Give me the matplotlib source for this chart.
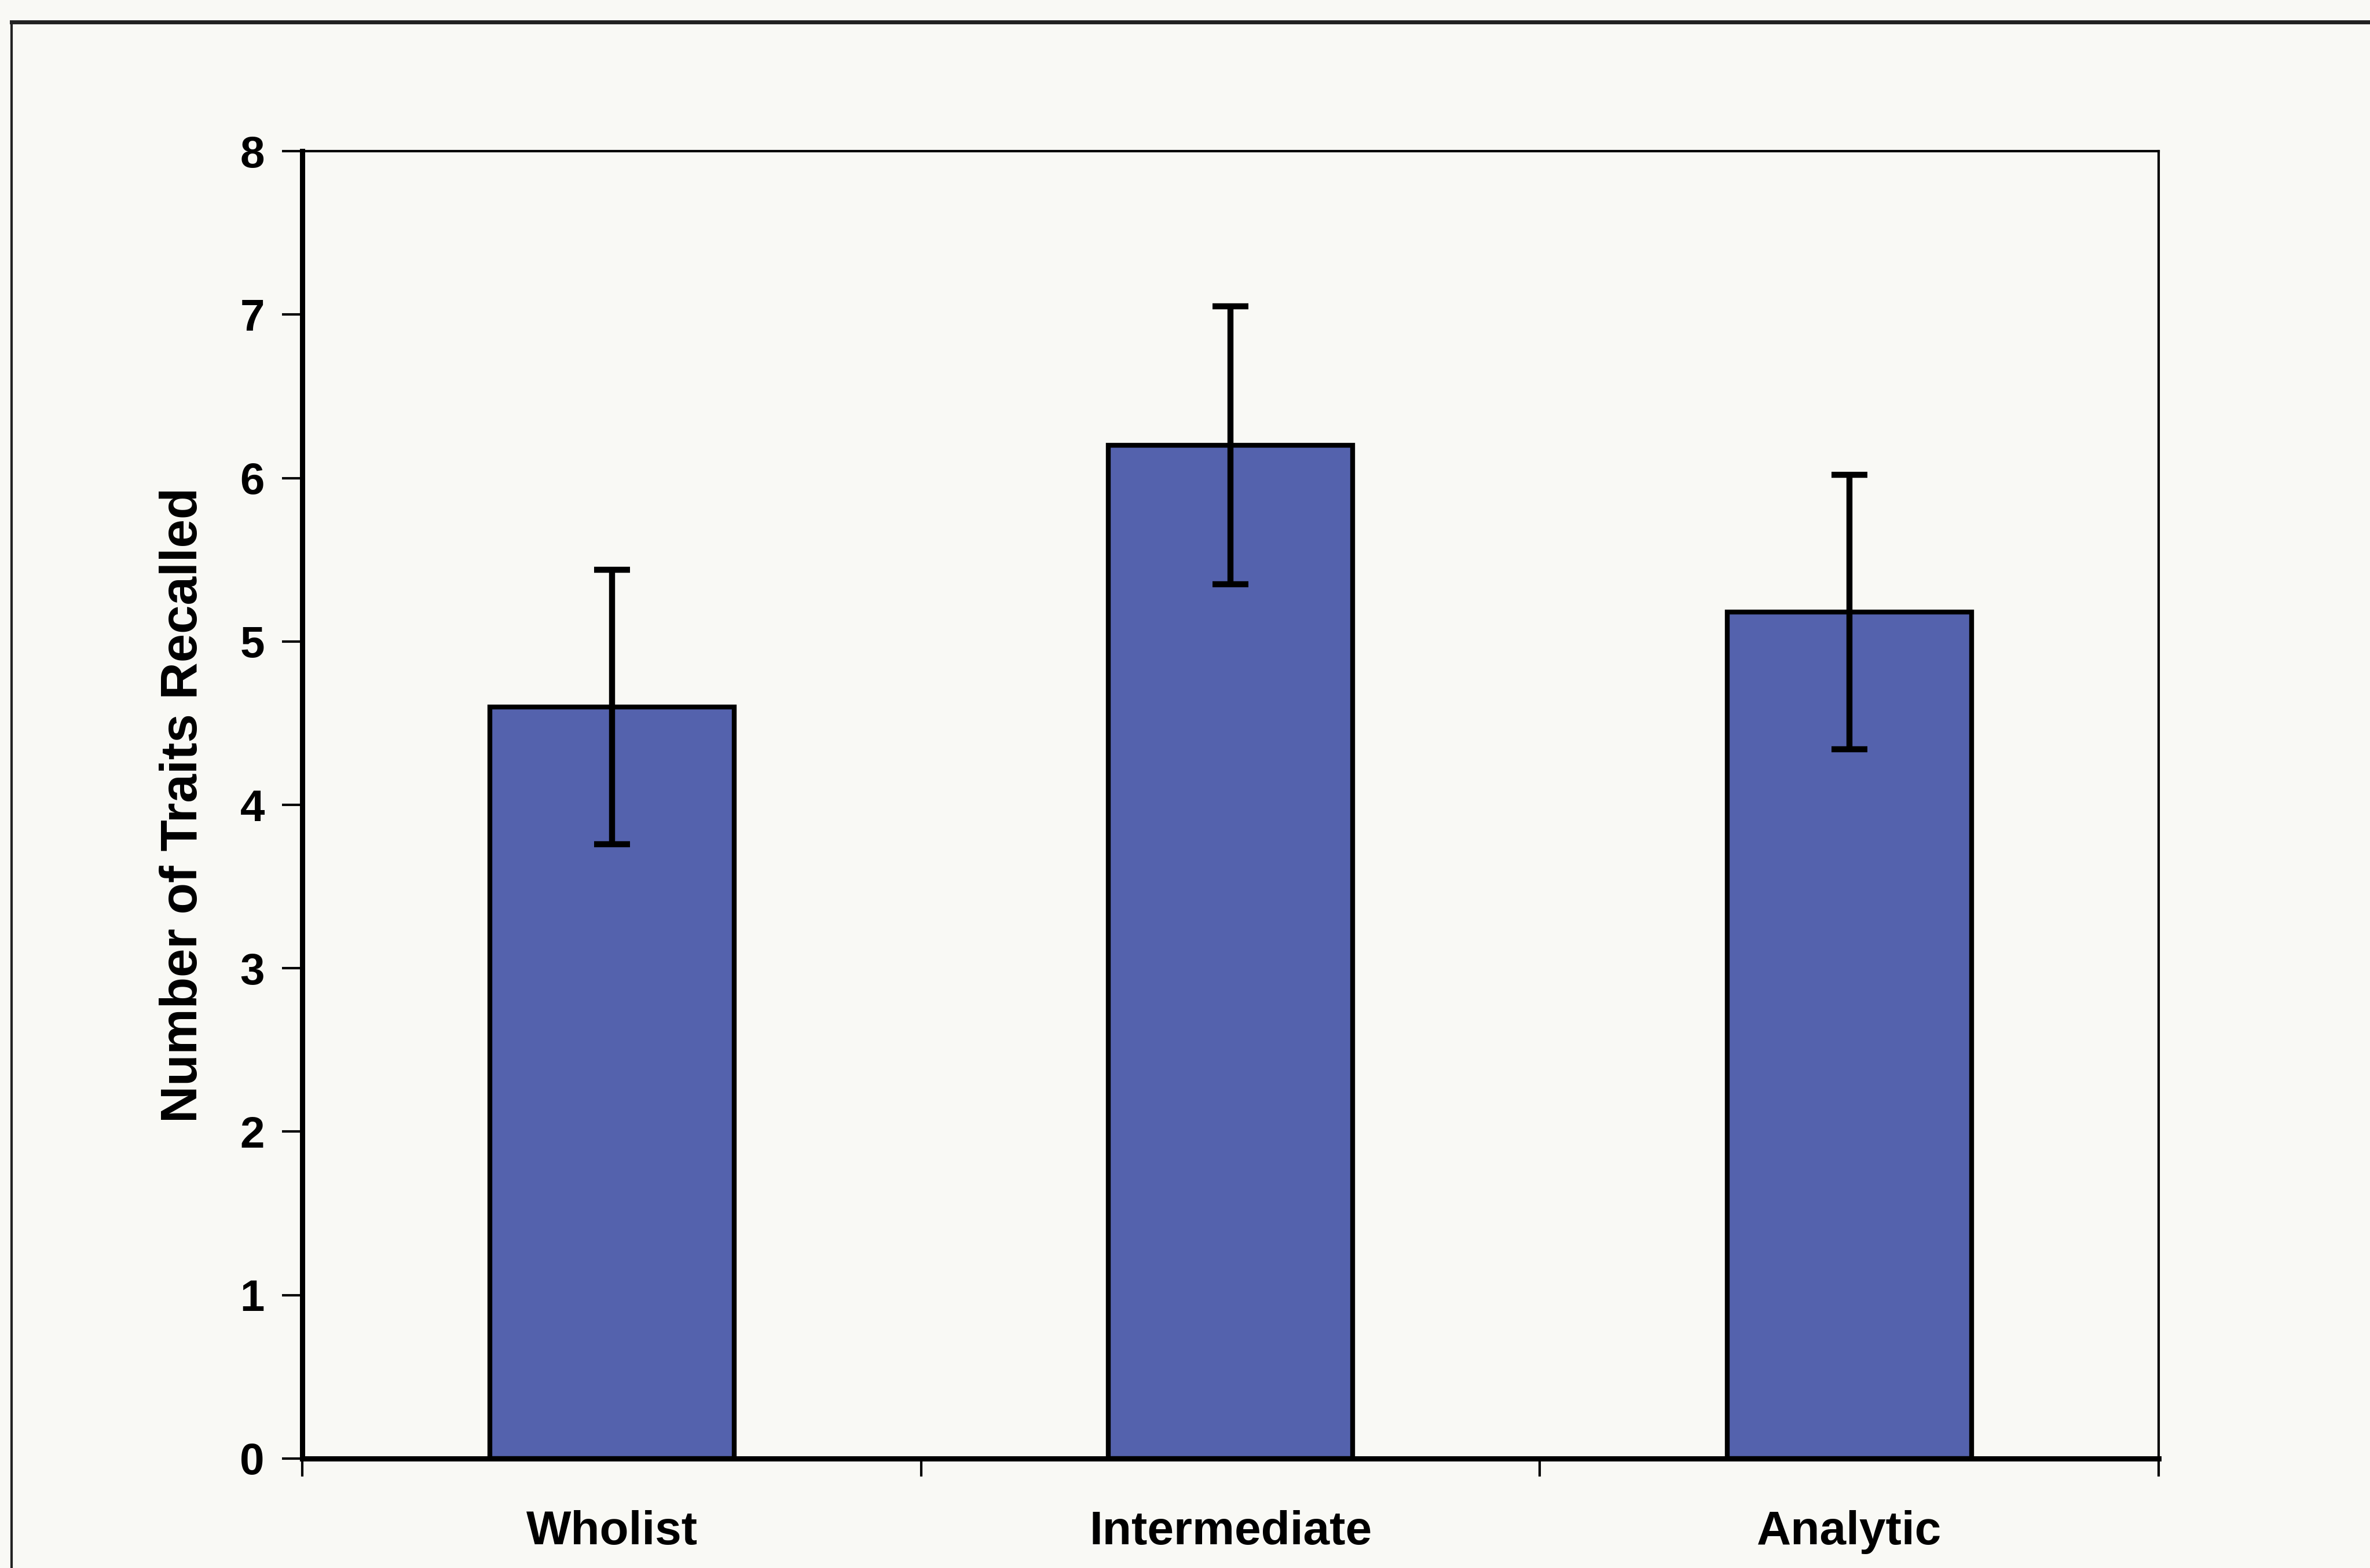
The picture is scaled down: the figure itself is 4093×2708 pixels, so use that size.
import numpy as np
import matplotlib.pyplot as plt
from matplotlib.lines import Line2D

# cognitive style groups, mean traits recalled and error bar half-widths
groups = ['Wholist', 'Intermediate', 'Analytic']
means = [4.6, 6.2, 5.18]
errs = [0.84, 0.85, 0.84]

plt.rcParams['font.family'] = ['Liberation Sans', 'DejaVu Sans']
plt.rcParams['font.weight'] = 'bold'

paper = '#f9f9f5'
fig = plt.figure(figsize=(40.93, 27.08), dpi=100, facecolor=paper)
ax = fig.add_axes([0.1276, 0.0698, 0.7832, 0.8338])
ax.set_facecolor(paper)

x = np.arange(len(groups))
ax.bar(x, means, width=0.395, color='#5462ad', edgecolor='black', linewidth=6, zorder=2)
ax.errorbar(x, means, yerr=errs, fmt='none', ecolor='black', elinewidth=7.5,
            capsize=22, capthick=7.5, zorder=3)

ax.set_xlim(-0.5, 2.5)
ax.set_ylim(0, 8)
ax.set_yticks(range(0, 9))
ax.tick_params(axis='y', labelsize=55, length=25, width=3, pad=22, direction='out')

# Excel style: ticks between categories, labels centred under bars
ax.set_xticks([-0.5, 0.5, 1.5, 2.5])
ax.set_xticklabels([])
ax.tick_params(axis='x', length=22, width=3, direction='out')
for xi, name in zip(x, groups):
    ax.text(xi, -0.45, name, ha='center', va='center', fontsize=59, fontweight='bold')

ax.set_ylabel('Number of Traits Recalled', fontsize=64, fontweight='bold', labelpad=40)

for side in ['left', 'bottom']:
    ax.spines[side].set_linewidth(6.5)
for side in ['top', 'right']:
    ax.spines[side].set_linewidth(3)

# outer chart area border (top and left visible in the scan)
fig.add_artist(Line2D([0.005, 1.0], [0.986, 0.986], color='#222222', linewidth=5))
fig.add_artist(Line2D([0.005, 0.005], [0.0, 0.986], color='#222222', linewidth=3))

fig.savefig('out.png', dpi=100, facecolor=paper)
